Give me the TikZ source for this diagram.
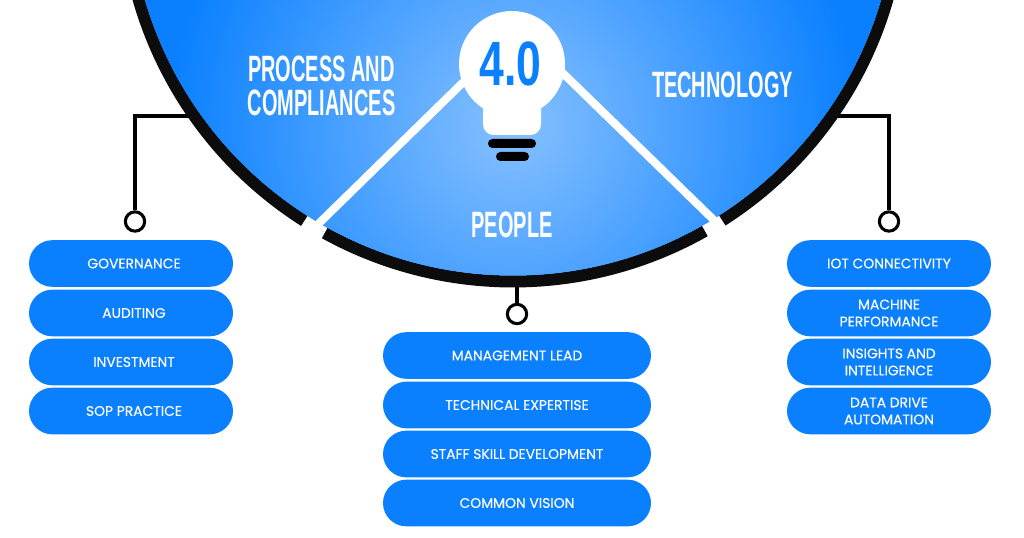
\documentclass[tikz,border=0pt]{standalone}
\usepackage{fontspec}
\setmainfont[FakeBold=0.2]{Poppins}
\newfontfamily\headfont[FakeStretch=0.545]{Liberation Sans}
\newfontfamily\bulbfont[FakeStretch=0.71]{Liberation Sans}
\usepackage{tikz}
\definecolor{pillblue}{HTML}{0A80FF}
\definecolor{glowblue}{HTML}{86C0FF}
\definecolor{ringblack}{HTML}{0C0C0C}
\tikzset{%
	pill/.style={rounded rectangle, fill=pillblue, text=white, align=center, inner sep=0pt, minimum height=35pt, font=\fontsize{10.4}{12.8}\selectfont},
	smallpill/.style={pill, minimum width=153pt},
	leftpill/.style={smallpill, execute at begin node=\hspace*{4.5pt}},
	widepill/.style={pill, minimum width=201pt},
	head/.style={text=white, align=center, inner sep=0pt, font=\headfont\bfseries\fontsize{27.5}{26}\selectfont},
	ring/.style={draw=ringblack, line width=9pt},
	wire/.style={draw=black, line width=2.6pt},
	dot/.style={draw=black, fill=white, circle, line width=2.3pt, inner sep=0pt, minimum size=14.5pt},
	divider/.style={draw=white, line width=6pt},
}
\usetikzlibrary{shapes.misc}
\usetikzlibrary{positioning, calc}

\begin{document}
\begin{tikzpicture}[x=0.75pt,y=-0.75pt]
	\useasboundingbox (0,0) rectangle (1024,538);
	\fill[white] (0,0) rectangle (1024,538);

	\coordinate(hub) at (513,-108);
	\coordinate(leftend) at (192,116);
	\coordinate(rightend) at (837,116);
	\coordinate(midend) at (517,284);

	\node[dot](leftdot) at (135,221.5) {};
	\node[dot](rightdot) at (889,221.5) {};
	\node[dot](middot) at (517,314) {};

	\draw[wire] (leftdot) |- (leftend);
	\draw[wire] (rightdot) |- (rightend);
	\draw[wire] (middot) to (midend);

	\begin{scope}
		\clip (0,0) rectangle (1024,538);
		\draw[ring] ([shift={(122.4:389.5)}]hub) arc[start angle=122.4, end angle=170, radius=389.5];
		\draw[ring] ([shift={(118.9:389.5)}]hub) arc[start angle=118.9, end angle=60.5, radius=389.5];
		\draw[ring] ([shift={(57.5:389.5)}]hub) arc[start angle=57.5, end angle=10, radius=389.5];
		\clip (hub) circle (383.5);
		\fill[pillblue] (0,0) rectangle (1024,538);
		\shade[inner color=glowblue, outer color=pillblue] (513,125) circle (345);
	\end{scope}

	\draw[divider] (490,56) to (306,236);
	\draw[divider] (535,46) to (722,228);

	\fill[white] (512,64) circle (53);
	\fill[white, rounded corners=8pt] (483,90) rectangle (541,135);
	\fill[black, rounded corners=3.3pt] (488,139) rectangle (536,148);
	\fill[black, rounded corners=3.3pt] (496,152) rectangle (529,161);

	\node[text=pillblue, inner sep=0pt, font=\bulbfont\bfseries\fontsize{47}{47}\selectfont](bulb) at (510.5,64) {4.0};

	\node[head](process) at (321.5,86) {PROCESS AND\\COMPLIANCES};
	\node[head](technology) at (722.5,85) {TECHNOLOGY};
	\node[head](people) at (512,225) {PEOPLE};

	\node[leftpill](gov) at (131,263.5) {GOVERNANCE};
	\node[leftpill](aud) at (131,313) {AUDITING};
	\node[leftpill](inv) at (131,362) {INVESTMENT};
	\node[leftpill](sop) at (131,411) {SOP PRACTICE};

	\node[widepill](lead) at (517,355.5) {MANAGEMENT LEAD};
	\node[widepill](tech) at (517,405) {TECHNICAL EXPERTISE};
	\node[widepill](staff) at (517,454) {STAFF SKILL DEVELOPMENT};
	\node[widepill](vision) at (517,503) {COMMON VISION};

	\node[smallpill](iot) at (889,263.5) {IOT CONNECTIVITY};
	\node[smallpill](machine) at (889,313) {MACHINE\\PERFORMANCE};
	\node[smallpill](insight) at (889,362) {INSIGHTS AND\\INTELLIGENCE};
	\node[smallpill](data) at (889,411) {DATA DRIVE\\AUTOMATION};
\end{tikzpicture}
\end{document}
